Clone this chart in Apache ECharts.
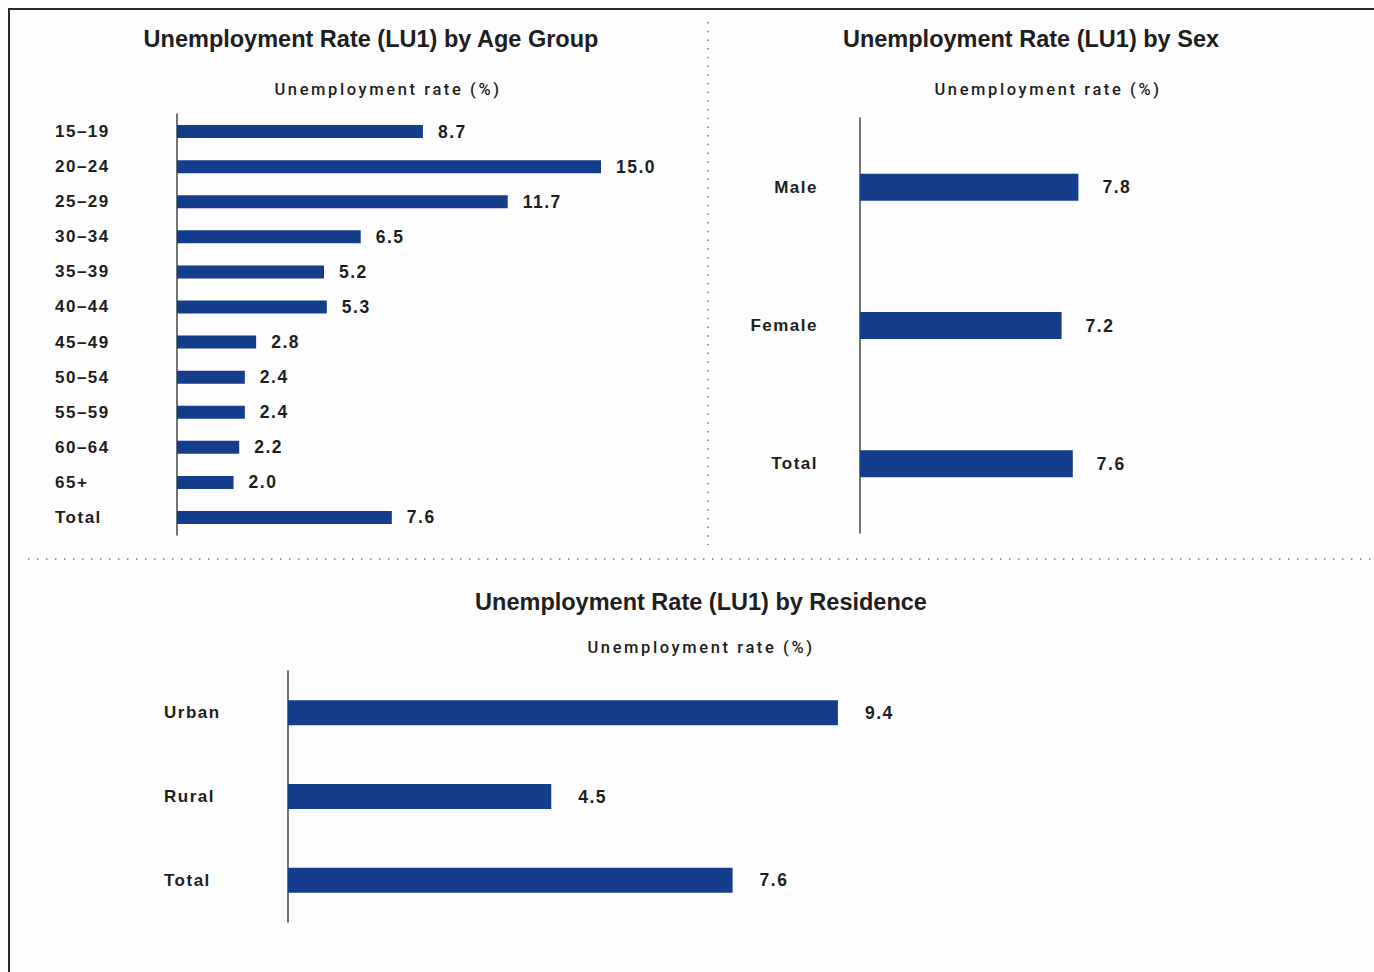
<!DOCTYPE html>
<html>
<head>
<meta charset="utf-8">
<script src="https://cdn.jsdelivr.net/npm/echarts@6/dist/echarts.min.js"></script>
<style>
html,body{margin:0;padding:0;background:#fdfdfd;}
#c{width:1374px;height:972px;}
</style>
</head>
<body>
<div id="c"></div>
<script>
// ---- data ----
const ageCategories = ['15–19','20–24','25–29','30–34','35–39','40–44','45–49','50–54','55–59','60–64','65+','Total'];
const ageValues = [8.7, 15.0, 11.7, 6.5, 5.2, 5.3, 2.8, 2.4, 2.4, 2.2, 2.0, 7.6];
const sexCategories = ['Male','Female','Total'];
const sexValues = [7.8, 7.2, 7.6];
const resCategories = ['Urban','Rural','Total'];
const resValues = [9.4, 4.5, 7.6];
const titles = ['Unemployment Rate (LU1) by Age Group','Unemployment Rate (LU1) by Sex','Unemployment Rate (LU1) by Residence'];
const axisTitle = 'Unemployment rate (%)';

const FONT = '"Liberation Sans", Arial, sans-serif';
const SUB_FONT = 'Roboto, "Liberation Sans", sans-serif';
const TITLE_FONT = '"Liberation Sans", Arial, sans-serif';
const BAR = '#143e8b';
const TXT = '#1e1e1e';

const chart = echarts.init(document.getElementById('c'), null, {renderer: 'svg'});

function titleItem(text, x, y, sub) {
  return {
    text: text, left: x, top: y, textAlign: 'center', padding: 0,
    textStyle: sub
      ? {fontFamily: SUB_FONT, fontSize: 16.5, fontWeight: 500, color: TXT}
      : {fontFamily: TITLE_FONT, fontSize: 23.5, fontWeight: 'bold', color: TXT}
  };
}

function yAx(gridIndex, cats, margin, align) {
  return {
    type: 'category', gridIndex: gridIndex, data: cats, inverse: true,
    axisLine: {show: true, lineStyle: {color: '#444', width: 1.5}},
    axisTick: {show: false},
    splitLine: {show: false},
    axisLabel: {margin: margin, align: align, fontFamily: FONT, fontSize: 17, color: TXT, fontWeight: 'bold'}
  };
}
function xAx(gridIndex, max) {
  return {type: 'value', gridIndex: gridIndex, min: 0, max: max, show: false, splitLine: {show: false}};
}
function barSeries(idx, values, width, dist) {
  return {
    type: 'bar', xAxisIndex: idx, yAxisIndex: idx, data: values, barWidth: width,
    itemStyle: {color: BAR},
    label: {show: true, position: 'right', distance: dist, formatter: p => p.value.toFixed(1),
            fontFamily: FONT, fontSize: 17.5, color: TXT, fontWeight: 'bold'},
    silent: true
  };
}

chart.setOption({
  backgroundColor: '#fdfdfd',
  animation: false,
  title: [
    titleItem(titles[0], 371, 27, false),
    titleItem(axisTitle, 388, 81, true),
    titleItem(titles[1], 1031, 27, false),
    titleItem(axisTitle, 1048, 81, true),
    titleItem(titles[2], 701, 590, false),
    titleItem(axisTitle, 701, 639, true)
  ],
  grid: [
    {left: 177, top: 114, width: 424, height: 421},
    {left: 860, top: 118, width: 420, height: 415},
    {left: 288, top: 671, width: 585, height: 251}
  ],
  xAxis: [xAx(0, 15), xAx(1, 15), xAx(2, 10)],
  yAxis: [yAx(0, ageCategories, 122, 'left'), yAx(1, sexCategories, 42, 'right'), yAx(2, resCategories, 124, 'left')],
  series: [barSeries(0, ageValues, 13, 15), barSeries(1, sexValues, 27, 24), barSeries(2, resValues, 25, 27)],
  graphic: [
    {type: 'line', shape: {x1: 9, y1: 8, x2: 9, y2: 972}, style: {stroke: '#2a2a2a', lineWidth: 2}},
    {type: 'line', shape: {x1: 8, y1: 9, x2: 1374, y2: 9}, style: {stroke: '#2a2a2a', lineWidth: 2}},
    {type: 'line', shape: {x1: 708, y1: 22, x2: 708, y2: 545}, style: {stroke: '#777', lineWidth: 1.5, lineDash: [1.5, 7.2]}},
    {type: 'line', shape: {x1: 28, y1: 559, x2: 1374, y2: 559}, style: {stroke: '#777', lineWidth: 1.5, lineDash: [1.5, 7.5]}}
  ]
});

// letter spacing for the wide-tracked typography of the original
function track() {
  document.querySelectorAll('#c svg text').forEach(t => {
    const fs = parseFloat(getComputedStyle(t).fontSize);
    let sp = 1.5;
    if (fs >= 22) sp = 0;
    else if (fs < 17) sp = 2.6;
    t.style.letterSpacing = sp + 'px';
  });
}
track();
chart.on('finished', track);
</script>
</body>
</html>
